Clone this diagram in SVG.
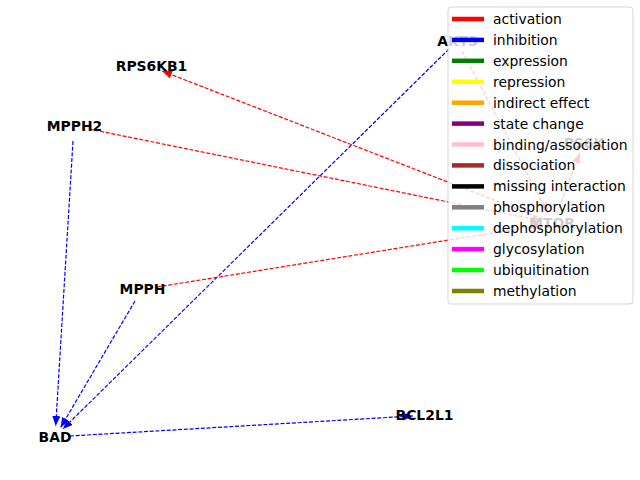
<svg xmlns="http://www.w3.org/2000/svg" width="640" height="480" viewBox="0 0 640 480">
<style>
.e{fill:none;stroke-width:1.2;stroke-dasharray:4,1.7}
.act{stroke:#ff0000}
.inh{stroke:#0000ff}
.lbl{font-family:"DejaVu Sans",sans-serif;font-weight:bold;font-size:13.9px;text-anchor:middle;dominant-baseline:central;fill:#000}
.lt{font-family:"DejaVu Sans",sans-serif;font-size:13.9px;fill:#000}
.ls{stroke-width:4.5;fill:none}
</style>
<defs>
<marker id="ar" viewBox="0 0 10 8" refX="10" refY="4" markerWidth="10" markerHeight="8" markerUnits="userSpaceOnUse" orient="auto"><path d="M0,0 L10,4 L0,8 z" fill="#ff0000"/></marker>
<marker id="ab" viewBox="0 0 10 8" refX="10" refY="4" markerWidth="10" markerHeight="8" markerUnits="userSpaceOnUse" orient="auto"><path d="M0,0 L10,4 L0,8 z" fill="#0000ff"/></marker>
</defs>
<rect width="640" height="480" fill="#fff"/>
<g id="edges">
<path class="e inh" d="M449,49 L62.8,429" marker-end="url(#ab)"/>
<path class="e inh" d="M73,141 L55.7,426" marker-end="url(#ab)"/>
<path class="e inh" d="M135,301 L60.6,427.5" marker-end="url(#ab)"/>
<path class="e inh" d="M70,436 L413,416" marker-end="url(#ab)"/>
<path class="e act" d="M543,219 L162,71" marker-end="url(#ar)"/>
<path class="e act" d="M89,129 L542,221" marker-end="url(#ar)"/>
<path class="e act" d="M157,287 L542,225" marker-end="url(#ar)"/>
<path class="e act" d="M462,51 L548,213" marker-end="url(#ar)"/>
<path class="e act" d="M557,213 L580,153" marker-end="url(#ar)"/>
</g>
<g id="AKT3"><text class="lbl" x="457.5" y="41">AKT3</text></g>
<g id="RPS6KB1"><text class="lbl" x="151.5" y="66">RPS6KB1</text></g>
<g id="MPPH2"><text class="lbl" x="74.5" y="126">MPPH2</text></g>
<g id="PS6K"><text class="lbl" x="584" y="143">PS6K</text></g>
<g id="MTOR"><text class="lbl" x="552" y="223">MTOR</text></g>
<g id="MPPH"><text class="lbl" x="142.5" y="289">MPPH</text></g>
<g id="BAD"><text class="lbl" x="55" y="437">BAD</text></g>
<g id="BCL2L1"><text class="lbl" x="424.5" y="415">BCL2L1</text></g>
<g id="legend">
<rect x="448" y="7" width="185" height="297" rx="3" fill="#fff" fill-opacity="0.8" stroke="#cccccc" stroke-opacity="0.8"/>
<line class="ls" x1="452" y1="19" x2="484" y2="19" stroke="#ff0000"/><text class="lt" x="493" y="24">activation</text>
<line class="ls" x1="452" y1="39.9" x2="484" y2="39.9" stroke="#0000ff"/><text class="lt" x="493" y="44.9">inhibition</text>
<line class="ls" x1="452" y1="60.8" x2="484" y2="60.8" stroke="#008000"/><text class="lt" x="493" y="65.8">expression</text>
<line class="ls" x1="452" y1="81.8" x2="484" y2="81.8" stroke="#ffff00"/><text class="lt" x="493" y="86.8">repression</text>
<line class="ls" x1="452" y1="102.7" x2="484" y2="102.7" stroke="#ffa500"/><text class="lt" x="493" y="107.7">indirect effect</text>
<line class="ls" x1="452" y1="123.6" x2="484" y2="123.6" stroke="#800080"/><text class="lt" x="493" y="128.6">state change</text>
<line class="ls" x1="452" y1="144.5" x2="484" y2="144.5" stroke="#ffc0cb"/><text class="lt" x="493" y="149.5">binding/association</text>
<line class="ls" x1="452" y1="165.4" x2="484" y2="165.4" stroke="#a52a2a"/><text class="lt" x="493" y="170.4">dissociation</text>
<line class="ls" x1="452" y1="186.4" x2="484" y2="186.4" stroke="#000000"/><text class="lt" x="493" y="191.4">missing interaction</text>
<line class="ls" x1="452" y1="207.3" x2="484" y2="207.3" stroke="#808080"/><text class="lt" x="493" y="212.3">phosphorylation</text>
<line class="ls" x1="452" y1="228.2" x2="484" y2="228.2" stroke="#00ffff"/><text class="lt" x="493" y="233.2">dephosphorylation</text>
<line class="ls" x1="452" y1="249.1" x2="484" y2="249.1" stroke="#ff00ff"/><text class="lt" x="493" y="254.1">glycosylation</text>
<line class="ls" x1="452" y1="270" x2="484" y2="270" stroke="#00ff00"/><text class="lt" x="493" y="275">ubiquitination</text>
<line class="ls" x1="452" y1="291" x2="484" y2="291" stroke="#808000"/><text class="lt" x="493" y="296">methylation</text>
</g>
</svg>
